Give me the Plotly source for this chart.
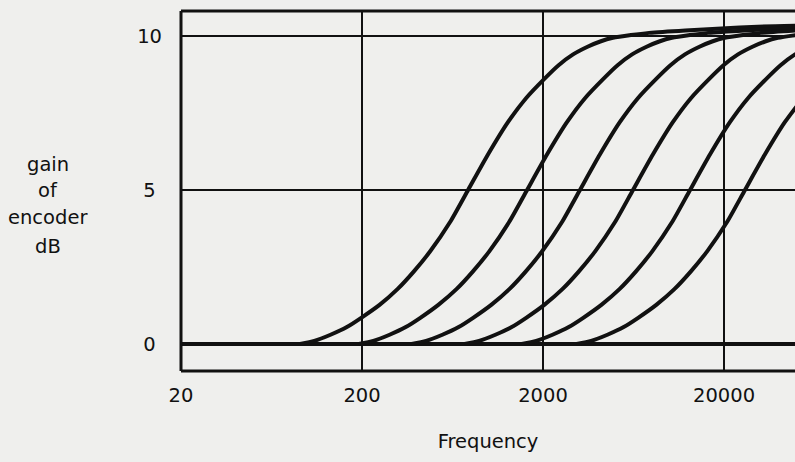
import plotly.graph_objects as go

# ---- data ----
x_tick_vals = [20, 200, 2000, 20000]
x_tick_text = ["20", "200", "2000", "20000"]
y_tick_vals = [0, 5, 10]
y_tick_text = ["0\u2004", "5\u2004", "10"]

curve1_f = [91, 109, 134, 165, 198, 250, 314, 386, 475, 612, 771, 993, 1280, 1611, 2028, 2438, 2931, 3524, 4140, 4865, 6124, 7710, 12220, 19370, 30690, 50000]
curve1_g = [0, 0.1, 0.3, 0.55, 0.85, 1.27, 1.78, 2.35, 3.0, 3.95, 5.0, 6.15, 7.2, 7.98, 8.6, 9.05, 9.4, 9.65, 9.82, 9.94, 10.03, 10.1, 10.18, 10.24, 10.3, 10.33]

curve2_f = [192, 231, 284, 349, 420, 528, 665, 818, 1007, 1297, 1633, 2103, 2711, 3411, 4295, 5164, 6209, 7464, 8769, 10304, 12971, 16330, 25883, 41020, 65010]
curve2_g = [0, 0.1, 0.3, 0.55, 0.85, 1.27, 1.78, 2.35, 3.0, 3.95, 5.0, 6.15, 7.2, 7.98, 8.6, 9.05, 9.4, 9.65, 9.82, 9.94, 10.03, 10.1, 10.18, 10.24, 10.3]

curve3_f = [376, 452, 556, 684, 822, 1035, 1303, 1603, 1973, 2541, 3199, 4120, 5310, 6683, 8413, 10115, 12163, 14623, 17179, 20186, 25410, 31990, 50700]
curve3_g = [0, 0.1, 0.3, 0.55, 0.85, 1.27, 1.78, 2.35, 3.0, 3.95, 5.0, 6.15, 7.2, 7.98, 8.6, 9.05, 9.4, 9.65, 9.82, 9.94, 10.03, 10.1, 10.18]

curve4_f = [738, 887, 1091, 1343, 1614, 2032, 2558, 3148, 3872, 4988, 6280, 8089, 10425, 13119, 16516, 19857, 23877, 28706, 33724, 39627, 49882, 62800]
curve4_g = [0, 0.1, 0.3, 0.55, 0.85, 1.27, 1.78, 2.35, 3.0, 3.95, 5.0, 6.15, 7.2, 7.98, 8.6, 9.05, 9.4, 9.65, 9.82, 9.94, 10.03, 10.1]

curve5_f = [1525, 1834, 2256, 2775, 3336, 4200, 5288, 6506, 8004, 10310, 12980, 16718, 21547, 27115, 34137, 41043, 49350, 59332]
curve5_g = [0, 0.1, 0.3, 0.55, 0.85, 1.27, 1.78, 2.35, 3.0, 3.95, 5.0, 6.15, 7.2, 7.98, 8.6, 9.05, 9.4, 9.65]

curve6_f = [3067, 3688, 4536, 5580, 6708, 8446, 10633, 13081, 16093, 20731, 26100, 33617, 43326, 54523]
curve6_g = [0, 0.1, 0.3, 0.55, 0.85, 1.27, 1.78, 2.35, 3.0, 3.95, 5.0, 6.15, 7.2, 7.98]

curves = [
    (curve1_f, curve1_g),
    (curve2_f, curve2_g),
    (curve3_f, curve3_g),
    (curve4_f, curve4_g),
    (curve5_f, curve5_g),
    (curve6_f, curve6_g),
]

x_title = "Frequency"
y_title_lines = ["gain", "of", "encoder", "dB"]

# ---- figure ----
INK = "#111111"
BG = "#efefed"
FONT = "DejaVu Sans"
FS = 19.5

W, H = 795, 462
ML, MR, MT, MB = 181, 0, 11, 91
PW, PH = W - ML - MR, H - MT - MB

fig = go.Figure()
for f, g in curves:
    fig.add_trace(go.Scatter(
        x=f, y=g, mode="lines",
        line=dict(color=INK, width=4, shape="spline", smoothing=0.6),
        hoverinfo="skip", showlegend=False, cliponaxis=True,
    ))

fig.update_xaxes(
    type="log", range=[1.30103, 4.693],
    tickvals=x_tick_vals, ticktext=x_tick_text,
    showgrid=True, gridcolor=INK, gridwidth=1.5,
    zeroline=False, showline=False, ticks="",
    ticklabelstandoff=10,
    tickfont=dict(family=FONT, size=FS, color=INK),
    title=dict(text=x_title, font=dict(family=FONT, size=FS, color=INK), standoff=28),
    automargin=False, fixedrange=True,
)
fig.update_yaxes(
    range=[-0.877, 10.81],
    tickvals=y_tick_vals, ticktext=y_tick_text,
    showgrid=True, gridcolor=INK, gridwidth=1.5,
    zeroline=True, zerolinecolor=INK, zerolinewidth=3.5,
    showline=False, ticks="",
    ticklabelstandoff=18,
    tickfont=dict(family=FONT, size=FS, color=INK),
    automargin=False, fixedrange=True,
)

# frame: top, left, bottom (right side is cut off in the reference)
for x0, y0, x1, y1 in [(0, 1, 1, 1), (0, 0, 0, 1), (0, 0, 1, 0)]:
    fig.add_shape(type="line", xref="paper", yref="paper",
                  x0=x0, y0=y0, x1=x1, y1=y1,
                  line=dict(color=INK, width=3))

# y-axis title, horizontal, one line per row
ys_px = [164, 190, 217, 246]
for txt, ypx in zip(y_title_lines, ys_px):
    fig.add_annotation(
        text=txt, xref="paper", yref="paper",
        x=(48 - ML) / PW, y=(H - MB - ypx) / PH,
        xanchor="center", yanchor="middle", showarrow=False,
        font=dict(family=FONT, size=FS, color=INK),
    )

fig.update_layout(
    width=W, height=H,
    margin=dict(l=ML, r=MR, t=MT, b=MB, pad=0),
    paper_bgcolor=BG, plot_bgcolor=BG,
    font=dict(family=FONT, size=FS, color=INK),
    showlegend=False,
)

fig.write_html(
    "out.html",
    config={"displayModeBar": False},
    post_script="document.body.style.margin='0';document.body.style.overflow='hidden';",
)
